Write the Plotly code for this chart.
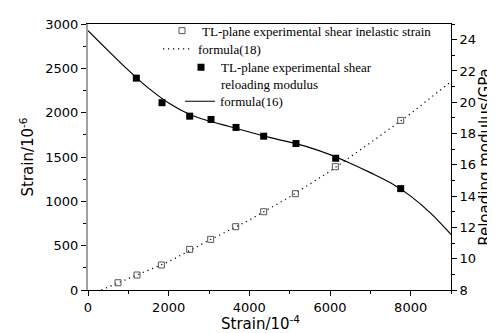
import plotly.graph_objects as go

# experimental inelastic strain (left axis)
strain_x = [744, 1215, 1818, 2521, 3042, 3662, 4356, 5141, 6133, 7753]
strain_y = [82, 169, 282, 458, 571, 714, 883, 1086, 1391, 1913]

# formula (18) curve (left axis)
f18_x = [330, 1000, 2000, 3000, 4000, 5000, 6000, 7000, 8000, 9000]
f18_y = [0, 130, 320, 560, 790, 1050, 1340, 1660, 1990, 2350]

# experimental reloading modulus (right axis)
mod_x = [1198, 1835, 2521, 3050, 3670, 4356, 5157, 6141, 7753]
mod_y = [21.54, 19.97, 19.11, 18.9, 18.39, 17.83, 17.36, 16.42, 14.48]

# formula (16) curve (right axis)
f16_x = [0, 500, 1000, 1500, 2000, 2500, 3000, 3500, 4000, 4500, 5000, 5500,
         6000, 6500, 7000, 7500, 8000, 8500, 9000]
f16_y = [24.58, 23.3, 22.05, 20.9, 19.95, 19.25, 18.8, 18.45, 18.1, 17.75, 17.45,
         17.1, 16.65, 16.1, 15.5, 14.85, 14.0, 12.9, 11.55]

names = ["TL-plane experimental shear inelastic strain", "formula(18)",
         "TL-plane experimental shear<br>reloading modulus", "formula(16)"]
x_title = "Strain/10<sup>-4</sup>"

W, H = 495, 333
L, R, T, B = 80, 52, 16, 51
PW, PH = W - L - R, H - T - B

fig = go.Figure()
fig.add_trace(go.Scatter(x=f18_x, y=f18_y, mode="lines", name=names[1],
                         line=dict(color="black", width=1.2, dash="1.2px,3.8px"),
                         legend="legend2"))
fig.add_trace(go.Scatter(x=strain_x, y=strain_y, mode="markers", name=names[0],
                         marker=dict(symbol="square-open", size=6, color="#555",
                                     line=dict(width=1, color="#555")),
                         legend="legend"))
fig.add_trace(go.Scatter(x=f16_x, y=f16_y, mode="lines", name=names[3], yaxis="y2",
                         line=dict(color="black", width=1.2, shape="spline"),
                         legend="legend4"))
fig.add_trace(go.Scatter(x=mod_x, y=mod_y, mode="markers", name=names[2], yaxis="y2",
                         marker=dict(symbol="square", size=7, color="black"),
                         legend="legend3"))

tickfont = dict(family="DejaVu Sans", size=13, color="black")
titlefont = dict(family="DejaVu Sans", size=15, color="black")
legfont = dict(family="Liberation Serif", size=13, color="black")

def leg(xpx, ypx, valign="middle"):
    return dict(x=(xpx - L) / PW, y=(H - B - ypx) / PH,
                xanchor="left", yanchor="middle", font=legfont,
                bgcolor="rgba(0,0,0,0)", borderwidth=0, valign=valign,
                tracegroupgap=0, itemclick=False)

fig.update_layout(
    width=W, height=H,
    margin=dict(l=L, r=R, t=T, b=B, autoexpand=False),
    plot_bgcolor="white", paper_bgcolor="white",
    showlegend=True,
    legend=leg(154, 22.7),
    legend2=leg(150, 41),
    legend3=leg(173, 67.7, "top"),
    legend4=leg(172, 93.3),
    xaxis=dict(range=[0, 9000], dtick=2000, tick0=0, showgrid=False, zeroline=False,
               showline=True, linecolor="black", linewidth=1, mirror=True,
               ticks="outside", ticklen=5, tickcolor="black", tickfont=tickfont,
               minor=dict(dtick=1000, ticks="outside", ticklen=3, tickcolor="black")),
    yaxis=dict(range=[0, 3000], dtick=500, tick0=0, showgrid=False, zeroline=False,
               showline=True, linecolor="#a0a0a0", linewidth=2,
               ticks="outside", ticklen=5, tickcolor="black", tickfont=tickfont,
               minor=dict(dtick=250, ticks="outside", ticklen=3, tickcolor="black"),
               title=dict(text="Strain/10<sup>-6</sup>", font=titlefont, standoff=8)),
    yaxis2=dict(range=[8, 25], dtick=2, tick0=8, overlaying="y", side="right",
                showgrid=False, zeroline=False, showline=True, linecolor="black",
                linewidth=1, ticks="outside", ticklen=5, tickcolor="black",
                tickfont=tickfont,
                minor=dict(dtick=1, ticks="outside", ticklen=3, tickcolor="black"),
                title=dict(text="Reloading modulus/GPa", font=titlefont, standoff=4)),
    annotations=[dict(text=x_title, xref="paper", yref="paper",
                      x=(252 - L) / PW, y=-(326 - (H - B)) / PH,
                      xanchor="center", yanchor="bottom", showarrow=False,
                      borderpad=0, font=titlefont)],
)

fig.write_html("out.html")
